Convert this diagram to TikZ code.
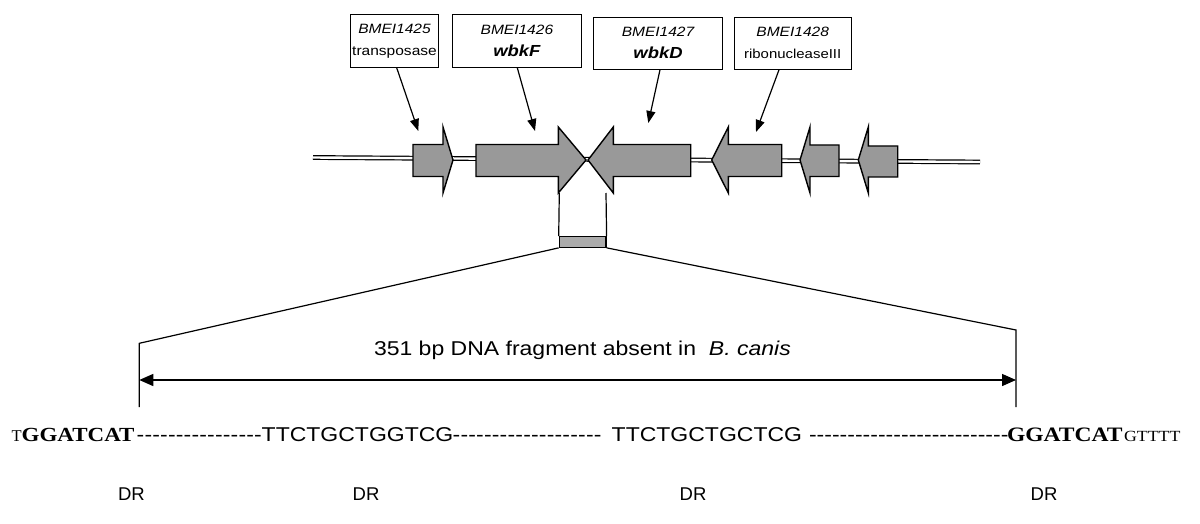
\documentclass[tikz,border=0pt]{standalone}
\usepackage{fontspec}
\setmainfont{Liberation Serif}
\setsansfont{Liberation Sans}
\usetikzlibrary{arrows.meta}
\definecolor{genegray}{HTML}{999999}
\definecolor{fraggray}{HTML}{ABABAB}
\newcommand{\sx}[1]{\scalebox{1.15}[1]{#1}}
\newcommand{\fs}[1]{\fontsize{#1}{#1}\selectfont}
\newcommand{\dashfill}[1]{\hbox to #1pt{\xleaders\hbox{\sffamily\fs{20}\sx{-}}\hfill}}
\begin{document}
\begin{tikzpicture}[x=1pt,y=-1pt,
  lbox/.style={draw=black, line width=1pt, fill=white, inner sep=0pt, align=center,
    font=\sffamily\fontsize{13.5}{22}\selectfont},
  conn/.style={line width=1.2pt, -{Triangle[length=12pt,width=9pt]}},
  gene/.style={draw=black, fill=genegray, line width=1.4pt, line join=miter},
  dna/.style={draw=black, double=white, double distance=2.4pt, line width=1.2pt},
  thinl/.style={line width=1.2pt},
  seq/.style={anchor=base west, inner sep=0pt, outer sep=0pt},
  dr/.style={anchor=base, inner sep=0pt, font=\sffamily\fs{18.5}}]
\useasboundingbox (0,0) rectangle (1200,524);

% label boxes
\node[lbox, minimum width=87.6pt, minimum height=53pt] (b1) at (394.5,40.8)
  {\sx{\itshape BMEI1425}\\\sx{transposase}};
\node[lbox, minimum width=128.3pt, minimum height=53pt] (b2) at (516.9,40.8)
  {\sx{\itshape BMEI1426}\\\sx{\fs{16}\bfseries\itshape wbkF}};
\node[lbox, minimum width=129.4pt, minimum height=52pt] (b3) at (658,43.3)
  {\sx{\itshape BMEI1427}\\\sx{\fs{16}\bfseries\itshape wbkD}};
\node[lbox, minimum width=117.3pt, minimum height=52pt] (b4) at (792.7,43.3)
  {\sx{\itshape BMEI1428}\\\sx{\fs{13}ribonucleaseIII}};

% DNA double line
\coordinate (dl) at (313,157.5);
\coordinate (dr) at (980,162);
\draw[dna] (dl) -- (dr);

% genes
\draw[gene] (413,144.5) -- (443,144.5) -- (443,127) -- (453,160) -- (443,193) -- (443,176.5) -- (413,176.5) -- cycle;
\draw[gene] (476,144.5) -- (558.3,144.5) -- (558.3,127) -- (586,160) -- (558.3,193) -- (558.3,176.5) -- (476,176.5) -- cycle;
\draw[gene] (690.7,144.5) -- (613.3,144.5) -- (613.3,127) -- (588,160) -- (613.3,193) -- (613.3,176.5) -- (690.7,176.5) -- cycle;
\draw[gene] (781.7,144.5) -- (728.3,144.5) -- (728.3,127) -- (711.7,160) -- (728.3,193) -- (728.3,176.5) -- (781.7,176.5) -- cycle;
\draw[gene] (839,145) -- (810,145) -- (810,127) -- (800,160) -- (810,193) -- (810,176.5) -- (839,176.5) -- cycle;
\draw[gene] (897.7,146) -- (868.3,146) -- (868.3,127) -- (858.3,160) -- (868.3,193) -- (868.3,177) -- (897.7,177) -- cycle;

% arrows from labels
\coordinate (t1) at (418.3,131);
\coordinate (t2) at (535,131);
\coordinate (t3) at (648.3,123);
\coordinate (t4) at (756,132);
\draw[conn] ([xshift=2.2pt]b1.south) -- (t1);
\draw[conn] ([xshift=0.4pt]b2.south) -- (t2);
\draw[conn] ([xshift=2pt]b3.south) -- (t3);
\draw[conn] ([xshift=-13.7pt]b4.south) -- (t4);

% fragment
\node[draw=black, line width=1.2pt, fill=fraggray, minimum width=46.7pt, minimum height=10.5pt, inner sep=0pt] (frag) at (582.65,242) {};
\draw[thinl] (559.3,193) -- (frag.north west);
\draw[thinl] (606,193) -- (frag.north east);
\coordinate (lt) at (139.3,343.3);
\coordinate (lb) at (139.3,407);
\coordinate (rt) at (1016,330);
\coordinate (rb) at (1016,407);
\draw[thinl] (frag.south west) -- (lt) -- (lb);
\draw[thinl] (frag.south east) -- (rt) -- (rb);
\coordinate (al) at (139.3,380);
\coordinate (ar) at (1016,380);
\draw[line width=1.4pt, {Triangle[length=14pt,width=12pt]}-{Triangle[length=14pt,width=12pt]}] (al) -- (ar);

\node[seq, font=\sffamily\fs{20}] (cap) at (374,355) {\sx{351 bp DNA fragment absent in~~\textit{B. canis}}};

% sequence
\node[seq, anchor=base east] (s0) at (21.7,441.5) {\fs{16.5}T};
\node[seq] (s1) at (21.7,441.5) {\sx{\fs{20}\bfseries GGATCAT}};
\node[seq] (s2) at (136.5,441.5) {\dashfill{125.5}};
\node[seq] (s3) at (261.7,441.5) {\sffamily\fs{20}\sx{TTCTGCTGGTCG}};
\node[seq] (s4) at (452.5,441.5) {\dashfill{149.2}};
\node[seq] (s5) at (611.7,441.5) {\sffamily\fs{20}\sx{TTCTGCTGCTCG}};
\node[seq] (s6) at (809,441.5) {\dashfill{199.5}};
\node[seq] (s7) at (1007,441.5) {\sx{\fs{20.5}\bfseries GGATCAT}};
\node[seq] (s8) at (1124,441.5) {\sx{\fs{15.5}GTTTT}};

% DR labels
\node[dr] (d1) at (131.5,500) {DR};
\node[dr] (d2) at (366,500) {DR};
\node[dr] (d3) at (693,500) {DR};
\node[dr] (d4) at (1044,500) {DR};
\end{tikzpicture}
\end{document}
